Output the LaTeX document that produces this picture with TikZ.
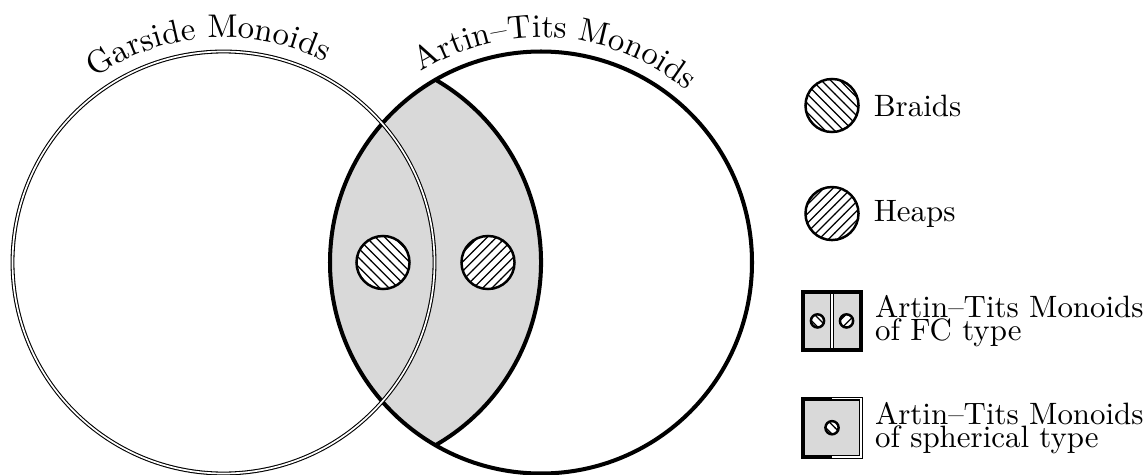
\documentclass[tikz,border=0pt]{standalone}
\usepackage{tikz}
\usetikzlibrary{positioning,patterns,decorations.text}

\begin{document}
\begin{tikzpicture}[x=0.011374cm,y=0.011374cm,node distance=1pt]
  \tikzstyle{artin}=[line width=1.3pt]
  \tikzstyle{garside}=[double,double distance=0.55pt,line width=0.35pt]
  \tikzstyle{braid}=[circle,draw,thick,inner sep=0pt,minimum size=0.603cm,preaction={fill=white},pattern=north west lines]
  \tikzstyle{heap}=[braid,pattern=north east lines]
  \tikzstyle{minibraid}=[braid,minimum size=0.15cm]
  \tikzstyle{miniheap}=[heap,minimum size=0.15cm]
  \tikzstyle{keybox}=[rectangle,fill=gray!30,inner sep=0pt,minimum size=0.648cm]
  \tikzstyle{arclabel}=[decorate,decoration={text along path,text align=center}]
  \useasboundingbox (0,0) rectangle (1143,474);
  \coordinate (garside) at (223.5,211.5);
  \coordinate (artin) at (541,211.5);
  \begin{scope}
    \clip (artin) circle (211);
    \fill[gray!30] (330,211.5) circle (211);
  \end{scope}
  \coordinate (lenslow) at (435.5,28.8);
  \draw[artin] (lenslow) arc[start angle=-60,end angle=60,radius=211];
  \draw[artin] (artin) circle (211);
  \draw[garside] (garside) circle (211);
  \node[braid] (braids) at (383,211.5) {};
  \node[heap] (heaps) at (488,211.5) {};
  \path[arclabel,decoration={text={|\fontsize{10.6}{12}\selectfont|Garside Monoids}}] (garside) ++(180:225) arc[start angle=180,end angle=8,radius=225];
  \path[arclabel,decoration={text={|\fontsize{10.6}{12}\selectfont|Artin–Tits Monoids}}] (artin) ++(180:225) arc[start angle=180,end angle=-8,radius=225];
  \node[braid] (braidkey) at (832,368.5) {};
  \node[right=of braidkey] (braidtext) {Braids};
  \node[heap,below=0.597cm of braidkey] (heapkey) {};
  \node[right=of heapkey] (heaptext) {Heaps};
  \node[keybox,below=0.574cm of heapkey] (fckey) {};
  \draw[garside] (fckey.north) -- (fckey.south);
  \draw[artin] (fckey.north west) rectangle (fckey.south east);
  \node[minibraid] (fcbraid) at ([xshift=-0.165cm]fckey.center) {};
  \node[miniheap] (fcheap) at ([xshift=0.165cm]fckey.center) {};
  \node[right=of fckey,align=left] (fctext) {Artin–Tits Monoids\\[-4.5pt]of FC type};
  \node[keybox,below=0.552cm of fckey] (sphkey) {};
  \draw[artin] (sphkey.north) -- (sphkey.north west) -- (sphkey.south west) -- (sphkey.south);
  \draw[garside] (sphkey.north) -- (sphkey.north east) -- (sphkey.south east) -- (sphkey.south);
  \node[minibraid] (sphbraid) at (sphkey.center) {};
  \node[right=of sphkey,align=left] (sphtext) {Artin–Tits Monoids\\[-4.5pt]of spherical type};
\end{tikzpicture}
\end{document}
